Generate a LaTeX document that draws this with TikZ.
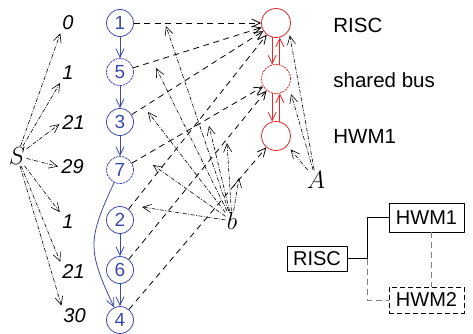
\documentclass[tikz,border=0pt]{standalone}
\usepackage{fontspec}
\usetikzlibrary{arrows.meta}
\newfontfamily\lsans{Liberation Sans}
\definecolor{taskblue}{RGB}{62,72,172}
\definecolor{resred}{RGB}{232,40,40}

\begin{document}
\begin{tikzpicture}[
    x=1pt, y=1pt, line width=0.8pt, line join=round,
    arr/.style={-{Straight Barb[length=8.5pt,width=8pt]}},
    task/.style={circle, draw=taskblue, text=taskblue, minimum size=27pt,
      inner sep=0pt, font=\lsans\fontsize{19}{20}\selectfont},
    comm/.style={task, dash pattern=on 2.5pt off 0.8pt},
    res/.style={circle, draw=resred, minimum size=29pt, inner sep=0pt},
    num/.style={anchor=west, inner sep=1pt, font=\lsans\itshape\fontsize{20}{22}\selectfont},
    lab/.style={anchor=west, inner sep=0pt, font=\lsans\fontsize{20.5}{22}\selectfont},
    sym/.style={inner sep=1pt, font=\fontsize{23}{25}\selectfont},
    box/.style={draw, inner sep=0pt, font=\lsans\fontsize{20}{22}\selectfont},
    bind/.style={arr, dash pattern=on 6pt off 4.5pt},
    lbl/.style={arr, line width=0.6pt, dash pattern=on 4pt off 1.5pt on 0.8pt off 1.5pt}]
  \useasboundingbox (0,0) rectangle (473,-334);
  % Problemgraph
  \node[task] (n1) at (120,-23) {1};
  \node[comm] (n5) at (120,-72) {5};
  \node[task] (n3) at (120,-122) {3};
  \node[comm] (n7) at (120,-170) {7};
  \node[task] (n2) at (120,-220) {2};
  \node[task] (n6) at (120,-270) {6};
  \node[task] (n4) at (120,-320) {4};
  \foreach \p/\q in {n1/n5, n5/n3, n3/n7, n2/n6, n6/n4}
    \draw[arr, taskblue] (\p) -- (\q);
  \draw[arr, taskblue] (n7) to[out=245, in=115, looseness=1.3] (n4);
  % Allokation
  \node[res] (risc) at (276,-23) {};
  \node[res, dash pattern=on 2pt off 1pt] (bus) at (276,-79) {};
  \node[res] (hwm) at (276,-136) {};
  \draw[arr, resred] (risc.-105) -- (bus.105);
  \draw[arr, resred] (bus.75) -- (risc.-75);
  \draw[arr, resred] (bus.-105) -- (hwm.105);
  \draw[arr, resred] (hwm.75) -- (bus.-75);
  \node[lab] at (333,-25) {RISC};
  \node[lab] at (333,-80) {shared bus};
  \node[lab] at (333,-136) {HWM1};
  % Bindung
  \foreach \p/\q in {n1/risc, n5/risc, n3/risc, n2/risc, n7/bus, n6/bus, n4/hwm}
    \draw[bind] (\p) -- (\q);
  % Ablaufplan
  \node[sym] (S) at (17,-156) {$S$};
  \node[num] (t0) at (61,-23) {0};
  \node[num] (t1) at (61,-73) {1};
  \node[num] (t2) at (61,-123) {21};
  \node[num] (t3) at (60,-167) {29};
  \node[num] (t4) at (61,-222) {1};
  \node[num] (t5) at (61,-272) {21};
  \node[num] (t6) at (62,-316) {30};
  \foreach \t/\a in {t0/south west, t1/south west, t2/west, t3/west,
      t4/north west, t5/north west, t6/north west}
    \draw[lbl, shorten >=2pt] (S) -- (\t.\a);
  % b und A
  \node[sym] (b) at (232,-221) {$b$};
  \node[sym] (A) at (316,-180) {$A$};
  \coordinate (e1) at (166,-26);
  \coordinate (e2) at (156,-68);
  \coordinate (e3) at (148,-112);
  \coordinate (e4) at (153,-165);
  \coordinate (e5) at (142,-207);
  \coordinate (e6) at (209,-126);
  \coordinate (e7) at (227,-143);
  \coordinate (e8) at (239,-178);
  \foreach \i in {1,...,8}
    \draw[lbl] (b) -- (e\i);
  \draw[lbl, shorten >=5pt] (A) -- (risc.-30);
  \draw[lbl, shorten >=8pt] (A) -- (bus.-30);
  \draw[lbl, shorten >=5pt] (A) -- (hwm.-40);
  % Architektur
  \node[box, minimum width=60pt, minimum height=25pt] (riscb) at (317,-258.5) {RISC};
  \node[box, minimum width=75pt, minimum height=29pt] (hwmb1) at (426.5,-217.5) {HWM1};
  \node[box, dash pattern=on 5pt off 3pt, minimum width=75pt, minimum height=26pt]
    (hwmb2) at (426.5,-300) {HWM2};
  \coordinate (jn) at (367,-258.5);
  \draw (riscb) -- (jn) |- (hwmb1);
  \draw[gray, dash pattern=on 6pt off 4pt] (jn) |- (hwmb2);
  \draw[gray, dash pattern=on 6pt off 4pt] ([xshift=5pt]hwmb1.south) -- ([xshift=5pt]hwmb2.north);
\end{tikzpicture}
\end{document}
